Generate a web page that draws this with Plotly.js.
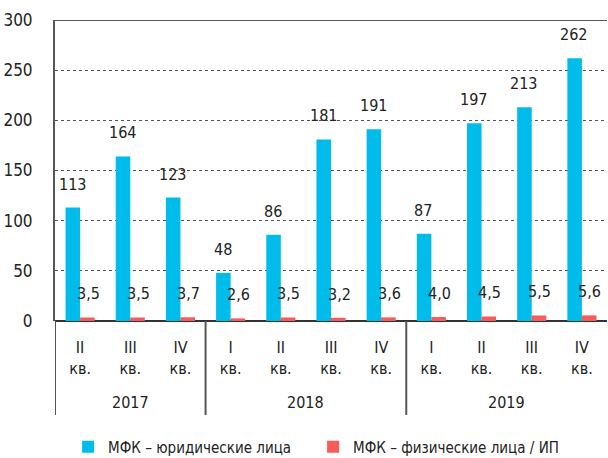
<!DOCTYPE html>
<html>
<head>
<meta charset="utf-8">
<script src="https://cdn.plot.ly/plotly-3.0.1.min.js"></script>
<style>html,body{margin:0;padding:0;background:#fff}#chart{width:608px;height:458px}</style>
</head>
<body>
<div id="chart"></div>
<script>
const quarters = ["II", "III", "IV", "I", "II", "III", "IV", "I", "II", "III", "IV"];
const years = ["2017", "2017", "2017", "2018", "2018", "2018", "2018", "2019", "2019", "2019", "2019"];
const legalEntities = [113, 164, 123, 48, 86, 181, 191, 87, 197, 213, 262];
const individuals = [3.5, 3.5, 3.7, 2.6, 3.5, 3.2, 3.6, 4.0, 4.5, 5.5, 5.6];
const seriesNames = ["МФК – юридические лица", "МФК – физические лица / ИП"];
const yTicks = [0, 50, 100, 150, 200, 250, 300];

const FONT = "'DejaVu Sans Condensed', Roboto, sans-serif";
const BLUE = "#00BCEB";
const RED = "#FA5A5A";
const TXT = "#222";
const xs = quarters.map((q, i) => i);
const fmt = v => v.toFixed(1).replace(".", ",");

const traces = [
  {type: "bar", x: xs, y: legalEntities, name: seriesNames[0], marker: {color: BLUE}, hoverinfo: "none"},
  {type: "bar", x: xs, y: individuals, name: seriesNames[1], marker: {color: RED}, hoverinfo: "none"}
];

const annotations = [];
xs.forEach((x, i) => {
  annotations.push({x: x, y: legalEntities[i], xref: "x", yref: "y", text: String(legalEntities[i]),
    showarrow: false, yanchor: "bottom", yshift: 12, xshift: -8, font: {family: FONT, size: 16, color: TXT}});
  annotations.push({x: x, y: individuals[i], xref: "x", yref: "y", text: fmt(individuals[i]),
    showarrow: false, yanchor: "bottom", yshift: 12, xshift: 8, font: {family: FONT, size: 16, color: TXT}});
});

// year groups
const groups = [];
years.forEach((y, i) => {
  if (!groups.length || groups[groups.length - 1].year !== y) groups.push({year: y, start: i, end: i});
  else groups[groups.length - 1].end = i;
});
const shapes = [];
groups.forEach(g => {
  annotations.push({x: (g.start + g.end) / 2, y: -0.272, xref: "x", yref: "paper", text: g.year,
    showarrow: false, yanchor: "middle", font: {family: FONT, size: 16, color: TXT}});
  shapes.push({type: "line", xref: "x", yref: "paper", x0: g.start - 0.5, x1: g.start - 0.5, y0: 0, y1: -0.312,
    line: {color: "#555", width: 2}});
});
shapes.push({type: "line", xref: "paper", yref: "y", x0: 0, x1: 1, y0: 300, y1: 300, line: {color: "#222", width: 1.5}});

const layout = {
  width: 608, height: 458,
  margin: {l: 55, r: 1, t: 20, b: 137},
  paper_bgcolor: "#fff", plot_bgcolor: "#fff",
  barmode: "group", bargap: 0.42, bargroupgap: 0,
  font: {family: FONT, size: 16, color: TXT},
  showlegend: true,
  legend: {orientation: "h", x: 0.112, xref: "container", xanchor: "left", y: 0.024, yref: "container", yanchor: "middle",
    font: {family: FONT, size: 15, color: TXT}, itemwidth: 30, entrywidth: 200, entrywidthmode: "pixels", traceorder: "normal"},
  xaxis: {range: [-0.5, 10.5], tickmode: "array", tickvals: xs, ticktext: quarters.map(q => q + "<br>кв."),
    ticks: "", showgrid: false, zeroline: false, showline: false, automargin: false, ticklabelstandoff: 15,
    tickfont: {family: FONT, size: 16, color: TXT}, fixedrange: true},
  yaxis: {range: [0, 300], tickmode: "array", tickvals: yTicks, ticks: "", showgrid: true, gridcolor: "#555", griddash: "dot", gridwidth: 1,
    zeroline: true, zerolinecolor: "#333", zerolinewidth: 2, showline: true, linecolor: "#555", linewidth: 2, automargin: false,
    ticklabelstandoff: 17, tickfont: {family: FONT, size: 17, color: TXT}, fixedrange: true},
  annotations: annotations,
  shapes: shapes
};

Plotly.newPlot("chart", traces, layout, {displayModeBar: false, staticPlot: true});
</script>
</body>
</html>
